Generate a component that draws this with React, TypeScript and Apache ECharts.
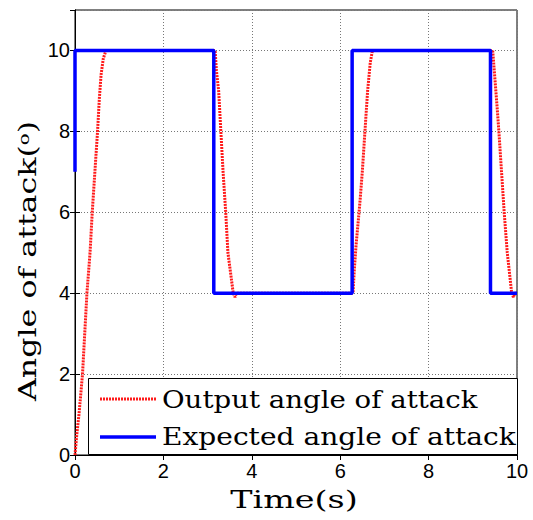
import React, { useEffect, useRef } from "react";
import * as echarts from "echarts";

// Output angle of attack (time s, angle deg)
const outputTime = [
  0, 0.04, 0.09, 0.13, 0.17, 0.22, 0.27, 0.34, 0.39, 0.45, 0.51, 0.55, 0.59, 0.64, 0.7,
  3.17, 3.2, 3.25, 3.3, 3.35, 3.41, 3.46, 3.52, 3.58, 3.62, 3.65,
  6.29, 6.32, 6.36, 6.41, 6.45, 6.5, 6.56, 6.62, 6.68, 6.73,
  9.45, 9.5, 9.55, 9.59, 9.65, 9.71, 9.78, 9.84, 9.88, 9.92, 9.95, 10,
];
const outputAngle = [
  0, 0.5, 1, 1.5, 2, 3, 4, 5, 6, 7, 8, 8.8, 9.4, 9.8, 10,
  10, 9.5, 9, 8, 7, 6, 5, 4.5, 4, 3.9, 4,
  4, 4.6, 5.2, 5.8, 6.3, 7, 8, 9, 9.7, 10,
  10, 9.3, 8.6, 8, 7, 6, 5, 4.4, 4, 3.9, 4, 4,
];

// Expected angle of attack (step reference)
const expectedTime = [0, 0, 3.14, 3.14, 6.27, 6.27, 9.4, 9.4, 10];
const expectedAngle = [7, 10, 10, 4, 4, 10, 10, 4, 4];

const xTicks = [0, 2, 4, 6, 8, 10];
const yTicks = [0, 2, 4, 6, 8, 10];

const legendNames = ["Output angle of attack", "Expected angle of attack"];
const xTitle = "Time(s)";
const yTitle = "Angle of attack({sup|o})";

const SERIF = "'DejaVu Serif', 'Liberation Serif', serif";
const SANS = "'Liberation Sans', Arial, sans-serif";

export default function App() {
  const ref = useRef<HTMLDivElement>(null);

  useEffect(() => {
    if (!ref.current) return;
    const chart = echarts.init(ref.current, null, { renderer: "svg" });

    const outputData = outputTime.map((t, i) => [t, outputAngle[i]]);
    const expectedData = expectedTime.map((t, i) => [t, expectedAngle[i]]);

    const dotted = { color: "#777", width: 1, type: [1, 2] as any };
    const tick = { show: true, inside: true, length: 5, lineStyle: { color: "#000" } };
    const axisLine = { show: true, lineStyle: { color: "#000", width: 1 } };

    const option: any = {
      animation: false,
      backgroundColor: "#fff",
      grid: {
        left: 75,
        right: 16,
        top: 10,
        bottom: 65,
        show: true,
        borderColor: "#000",
        borderWidth: 1,
        backgroundColor: "transparent",
      },
      xAxis: [
        {
          type: "value",
          min: xTicks[0],
          max: xTicks[xTicks.length - 1],
          interval: 2,
          position: "bottom",
          axisLine,
          axisTick: tick,
          axisLabel: { color: "#000", fontFamily: SANS, fontSize: 20, margin: 6 },
          splitLine: { show: true, lineStyle: dotted },
        },
        {
          type: "value",
          min: 0,
          max: 10,
          interval: 2,
          position: "top",
          axisLine,
          axisTick: tick,
          axisLabel: { show: false },
          splitLine: { show: false },
        },
      ],
      yAxis: [
        {
          type: "value",
          min: yTicks[0],
          max: 11,
          interval: 2,
          position: "left",
          axisLine,
          axisTick: tick,
          axisLabel: {
            color: "#000",
            fontFamily: SANS,
            fontSize: 20,
            margin: 5,
            showMaxLabel: false,
            formatter: (v: number) => (yTicks.includes(v) ? String(v) : ""),
          },
          splitLine: { show: true, lineStyle: dotted },
        },
        {
          type: "value",
          min: 0,
          max: 11,
          interval: 2,
          position: "right",
          axisLine,
          axisTick: tick,
          axisLabel: { show: false },
          splitLine: { show: false },
        },
      ],
      series: [
        {
          name: legendNames[0],
          type: "line",
          data: outputData,
          showSymbol: false,
          symbol: "none",
          lineStyle: { color: "#ff1a1a", width: 3, type: [2, 1] },
          z: 2,
        },
        {
          name: legendNames[1],
          type: "line",
          data: expectedData,
          showSymbol: false,
          symbol: "none",
          lineStyle: { color: "#0000ff", width: 3.5 },
          z: 3,
        },
      ],
      graphic: [
        {
          type: "text",
          x: 28,
          y: 261,
          rotation: Math.PI / 2,
          scaleX: 1.32,
          z: 100,
          style: {
            text: yTitle,
            fill: "#000",
            fontFamily: SERIF,
            fontSize: 24,
            align: "center",
            verticalAlign: "middle",
            rich: {
              sup: { fontSize: 15, fontFamily: SERIF, verticalAlign: "top", fill: "#000", padding: [0, 0, 8, 0] },
            },
          },
        },
        {
          type: "text",
          x: 294,
          y: 500,
          scaleX: 1.39,
          z: 100,
          style: {
            text: xTitle,
            fill: "#000",
            fontFamily: SERIF,
            fontSize: 24,
            align: "center",
            verticalAlign: "middle",
          },
        },
        {
          type: "rect",
          z: 100,
          shape: { x: 88.5, y: 378.5, width: 429, height: 76 },
          style: { fill: "#fff", stroke: "#000", lineWidth: 1 },
        },
        {
          type: "line",
          z: 101,
          shape: { x1: 100, y1: 399, x2: 156, y2: 399 },
          style: { stroke: "#ff1a1a", lineWidth: 3, lineDash: [2, 1] },
        },
        {
          type: "line",
          z: 101,
          shape: { x1: 100, y1: 437, x2: 156, y2: 437 },
          style: { stroke: "#0000ff", lineWidth: 3.5 },
        },
        {
          type: "text",
          z: 101,
          x: 162,
          y: 400,
          scaleX: 1.15,
          style: {
            text: legendNames[0],
            fill: "#000",
            fontFamily: SERIF,
            fontSize: 24,
            align: "left",
            verticalAlign: "middle",
          },
        },
        {
          type: "text",
          z: 101,
          x: 162,
          y: 437,
          scaleX: 1.17,
          style: {
            text: legendNames[1],
            fill: "#000",
            fontFamily: SERIF,
            fontSize: 24,
            align: "left",
            verticalAlign: "middle",
          },
        },
      ],
    };

    chart.setOption(option);
    return () => chart.dispose();
  }, []);

  return (
    <div
      ref={ref}
      style={{ position: "fixed", left: 0, top: 0, width: 533, height: 520, background: "#fff" }}
    />
  );
}
